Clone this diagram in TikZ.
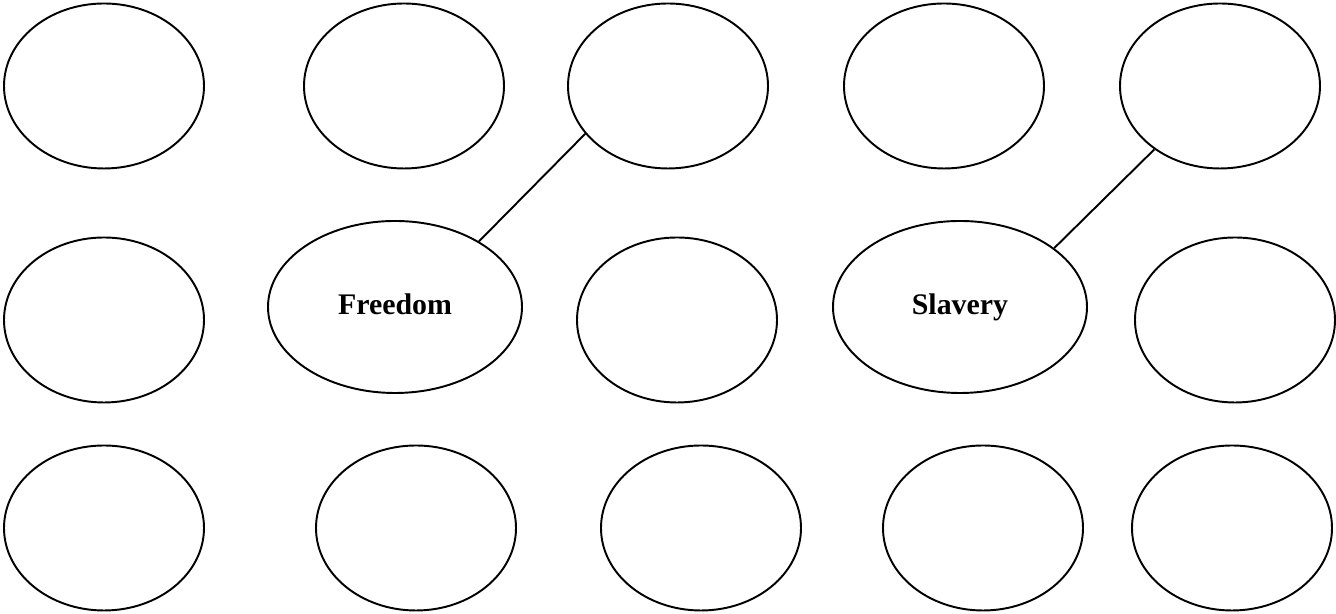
\documentclass[tikz,border=0pt]{standalone}
\usepackage{fontspec}
\setmainfont{Liberation Serif}
\usepackage{tikz}
\usetikzlibrary{shapes.geometric}

\begin{document}
\begin{tikzpicture}[
      bubble/.style={draw=black, ellipse, line width=1.1pt, inner sep=0pt,
                     minimum width=4.0cm, minimum height=3.3cm},
      bigbubble/.style={bubble, minimum width=5.08cm, minimum height=3.44cm,
                        text height=11.5pt, text depth=3.5pt,
                        font=\bfseries\fontsize{17}{20}\selectfont},
      link/.style={line width=1.1pt, color=black},
  ]
    \useasboundingbox (0,0) rectangle (26.72,12.28);

    % top row
    \node[bubble] (top1) at (2.08,10.56)  {};
    \node[bubble] (top2) at (8.08,10.56)  {};
    \node[bubble] (top3) at (13.36,10.56) {};
    \node[bubble] (top4) at (18.88,10.56) {};
    \node[bubble] (top5) at (24.40,10.56) {};

    % middle row
    \node[bubble]    (mid1)  at (2.08,5.88)  {};
    \node[bigbubble] (free)  at (7.90,6.14)  {Freedom};
    \node[bubble]    (mid3)  at (13.54,5.88) {};
    \node[bigbubble] (slave) at (19.20,6.14) {Slavery};
    \node[bubble]    (mid5)  at (24.70,5.88) {};

    % bottom row
    \node[bubble] (bot1) at (2.08,1.72)  {};
    \node[bubble] (bot2) at (8.32,1.72)  {};
    \node[bubble] (bot3) at (14.02,1.72) {};
    \node[bubble] (bot4) at (19.66,1.72) {};
    \node[bubble] (bot5) at (24.64,1.72) {};

    \draw[link] (top3.210) -- (free.38);
    \draw[link] (top5.224) -- (slave.32);

  \end{tikzpicture}
\end{document}
